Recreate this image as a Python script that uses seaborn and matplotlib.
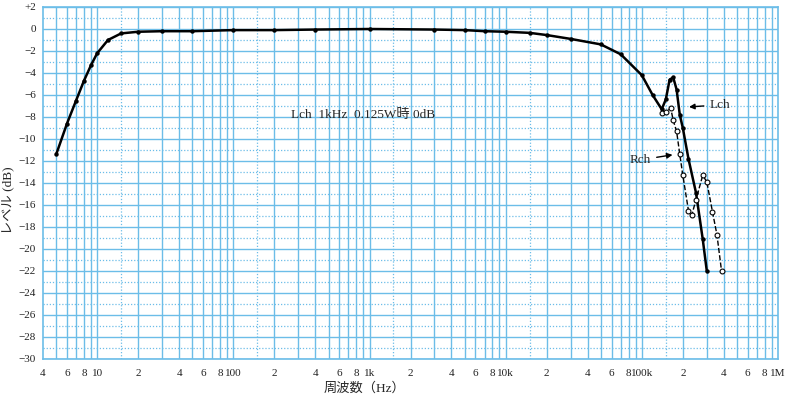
import numpy as np
import pandas as pd
import matplotlib
matplotlib.use('Agg')
import matplotlib.pyplot as plt
import seaborn as sns

# 周波数特性 (Lch / Rch)
lch_freq = [5, 6, 7, 8, 9, 10, 12, 15, 20, 30, 50, 100, 200, 400, 1000, 3000, 5000, 7000,
            10000, 15000, 20000, 30000, 50000, 70000, 100000, 120000, 140000, 150000,
            160000, 170000, 180000, 190000, 200000, 220000, 250000, 280000, 300000]
lch_db = [-11.4, -8.6, -6.5, -4.7, -3.3, -2.2, -1.0, -0.4, -0.25, -0.2, -0.2, -0.1, -0.1, -0.05, 0.0,
          -0.05, -0.1, -0.2, -0.25, -0.35, -0.55, -0.9, -1.4, -2.3, -4.2, -6.0, -7.3, -6.4,
          -4.6, -4.4, -5.5, -7.8, -9.0, -11.8, -14.9, -19.1, -22.0]

rch_freq = [140000, 150000, 163000, 170000, 180000, 190000, 200000, 220000, 233000, 250000,
            280000, 300000, 330000, 356000, 385000]
rch_db = [-7.6, -7.5, -7.2, -8.3, -9.3, -11.4, -13.3, -16.5, -16.9, -15.5,
          -13.3, -13.9, -16.6, -18.7, -22.0]

x_tick_pos = [4, 6, 8, 10, 20, 40, 60, 80, 100, 200, 400, 600, 800, 1e3, 2e3, 4e3, 6e3, 8e3, 1e4,
              2e4, 4e4, 6e4, 8e4, 1e5, 2e5, 4e5, 6e5, 8e5, 1e6]
x_tick_labels = ['4', '6', '8', '10', '2', '4', '6', '8', '100', '2', '4', '6', '8', '1k',
                 '2', '4', '6', '8', '10k', '2', '4', '6', '8', '100k', '2', '4', '6', '8', '1M']
y_ticks = list(range(-30, 3, 2))

sns.set_style('white')
plt.rcParams['font.family'] = ['Liberation Serif', 'Noto Sans CJK JP', 'DejaVu Sans']

grid_col = '#6cbde8'

fig = plt.figure(figsize=(7.9, 3.99), dpi=100)
ax = fig.add_axes([43 / 790, 1 - 359 / 399, 735 / 790, 352 / 399])
ax.set_xscale('log')
ax.set_xlim(4, 1e6)
ax.set_ylim(-30, 2)

# 方眼
for dec in [1, 10, 100, 1e3, 1e4, 1e5]:
    for k in range(1, 10):
        f = k * dec
        if 4 < f < 1e6:
            ax.axvline(f, color=grid_col, lw=1.0, zorder=0)
    ax.axvline(1.5 * dec, color=grid_col, lw=0.9, ls=(0, (1, 1.5)), zorder=0)
for d in range(-30, 3):
    if d % 2 == 0:
        ax.axhline(d, color=grid_col, lw=1.0, zorder=0)
    else:
        ax.axhline(d, color=grid_col, lw=0.9, ls=(0, (1, 1.5)), zorder=0)
for s in ax.spines.values():
    s.set_color(grid_col)
    s.set_linewidth(1.2)

df_l = pd.DataFrame({'freq': lch_freq, 'db': lch_db})
df_r = pd.DataFrame({'freq': rch_freq, 'db': rch_db})

sns.lineplot(data=df_l, x='freq', y='db', ax=ax, estimator=None, sort=False,
             color='black', lw=1.8, marker='o', markersize=3.2, markeredgewidth=0, zorder=3)
sns.lineplot(data=df_r, x='freq', y='db', ax=ax, estimator=None, sort=False,
             color='black', lw=1.0, ls='--', marker='o', markersize=3.5,
             markerfacecolor='white', markeredgecolor='black', markeredgewidth=0.8, zorder=4)

ax.set_xticks(x_tick_pos)
ax.set_xticklabels(x_tick_labels)
ax.xaxis.set_minor_locator(matplotlib.ticker.NullLocator())
ax.set_yticks(y_ticks)
ax.set_yticklabels(['+2' if v == 2 else ('0' if v == 0 else '\u2212' + str(-v)) for v in y_ticks])
ax.tick_params(axis='both', length=0, labelsize=8, colors='#222222')
ax.tick_params(axis='x', pad=7)
ax.tick_params(axis='y', pad=5)
ax.set_xlabel('')
ax.set_ylabel('')

ax.text(0.437, -0.083, '周波数（Hz）', transform=ax.transAxes, ha='center', va='center', fontsize=9.5)
ax.text(-0.046, 0.452, 'レベル (dB)', transform=ax.transAxes, ha='center', va='center',
        rotation=90, fontsize=9.5)

ax.text(900, -7.8, 'Lch  1kHz  0.125W時 0dB', ha='center', va='center', fontsize=9.5)

ax.annotate('Lch', xy=(212000, -7.1), xytext=(316000, -6.9), ha='left', va='center', fontsize=9.5,
            arrowprops=dict(arrowstyle='-|>', color='black', lw=1.0, mutation_scale=8))
ax.annotate('Rch', xy=(176000, -11.4), xytext=(97000, -11.9), ha='center', va='center', fontsize=9.5,
            arrowprops=dict(arrowstyle='-|>', color='black', lw=1.0, mutation_scale=8))

fig.savefig('out.png', dpi=100, facecolor='white')
